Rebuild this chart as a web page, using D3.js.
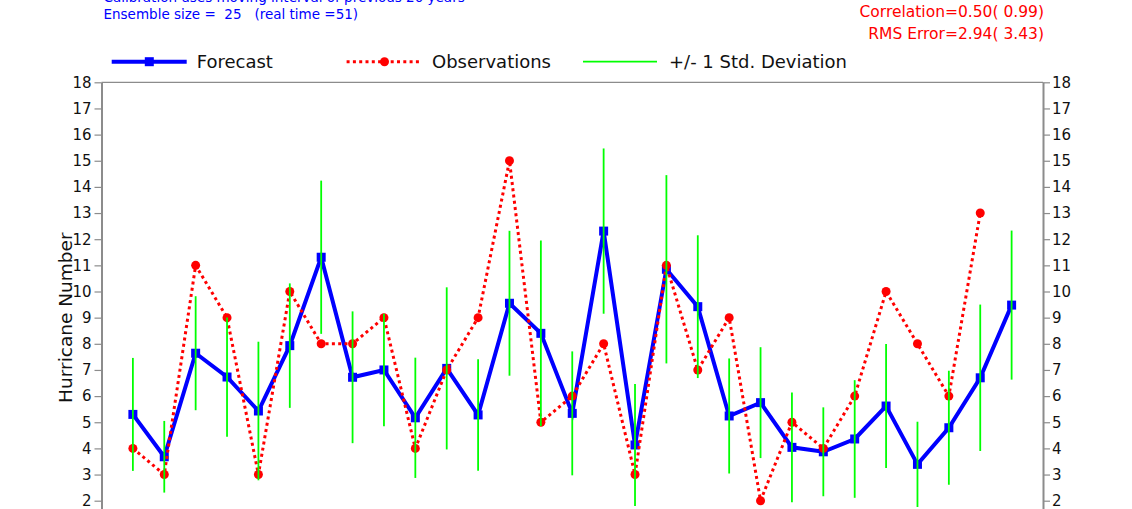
<!DOCTYPE html>
<html>
<head>
<meta charset="utf-8">
<script src="https://cdn.jsdelivr.net/npm/d3@7"></script>
<style>
  html, body { margin: 0; padding: 0; background: #fff; overflow: hidden; }
  svg { display: block; font-family: "DejaVu Sans", sans-serif; }
</style>
</head>
<body>
<svg id="chart" width="1132" height="509"></svg>
<script>
// forecast years (index along the x axis)
const years = [1, 2, 3, 4, 5, 6, 7, 8, 9, 10, 11, 12, 13, 14, 15, 16, 17, 18, 19, 20,
               21, 22, 23, 24, 25, 26, 27, 28, 29];

// ensemble mean forecast
const forecast = [5.30, 3.68, 7.64, 6.73, 5.43, 7.93, 11.31, 6.72, 7.00, 5.17,
                  7.06, 5.28, 9.55, 8.40, 5.34, 12.31, 4.13, 10.85, 9.42, 5.24,
                  5.75, 4.04, 3.87, 4.36, 5.62, 3.39, 4.79, 6.70, 9.48];

// ensemble standard deviation
const stdDev = [2.16, 1.37, 2.18, 2.28, 2.65, 2.38, 2.93, 2.52, 2.15, 2.30,
                3.10, 2.13, 2.77, 3.55, 2.37, 3.16, 2.33, 3.60, 2.73, 2.20,
                2.12, 2.10, 1.70, 2.25, 2.37, 1.63, 2.18, 2.80, 2.85];

// observed hurricane numbers (no observation yet for the last year)
const observed = [4, 3, 11, 9, 3, 10, 8, 8, 9, 4, 7, 9, 15, 5, 6, 8, 3, 11, 7, 9,
                  2, 5, 4, 6, 10, 8, 6, 13];

// tick labels visible in the frame (axis itself runs down to 0)
const yTicks = [2, 3, 4, 5, 6, 7, 8, 9, 10, 11, 12, 13, 14, 15, 16, 17, 18];

const infoLines = ["Calibration uses moving interval of previous 20 years",
                   "Ensemble size =  25   (real time =51)"];
const scoreLines = ["Correlation=0.50( 0.99)", "RMS Error=2.94( 3.43)"];

const svg = d3.select("#chart");

const x = d3.scaleLinear().domain([0, 30]).range([101.5, 1043]);
const y = d3.scaleLinear().domain([0, 18]).range([553, 82.3]);

    // frame and axes
const axisColor = "#8c8c8c";

svg.append("line")
    .attr("x1", x(0)).attr("x2", x(30))
    .attr("y1", y(18)).attr("y2", y(18))
    .attr("stroke", axisColor).attr("stroke-width", 1.2);

function styleAxis(g) {
    g.select(".domain").attr("stroke", axisColor).attr("stroke-width", 2);
    g.selectAll(".tick line").attr("stroke", axisColor).attr("stroke-width", 1.2);
    g.selectAll(".tick text").attr("fill", "#111").attr("font-size", 15)
        .attr("font-family", "DejaVu Sans, sans-serif");
}

svg.append("g")
    .attr("transform", `translate(${x(0)},0)`)
    .call(d3.axisLeft(y).tickValues(yTicks).tickSize(7).tickSizeOuter(0).tickPadding(3))
    .call(styleAxis);

svg.append("g")
    .attr("transform", `translate(${x(30)},0)`)
    .call(d3.axisRight(y).tickValues(yTicks).tickSize(7).tickSizeOuter(0).tickPadding(2))
    .call(styleAxis);

svg.append("text")
    .attr("transform", `translate(71.5,${(y(0) + y(18)) / 2}) rotate(-90)`)
    .attr("text-anchor", "middle")
    .attr("font-size", 18.5)
    .attr("fill", "#111")
    .text("Hurricane Number");

    // forecast line with square markers
const fcData = years.map((yr, i) => ({ yr, v: forecast[i], sd: stdDev[i] }));
const obsData = observed.map((v, i) => ({ yr: years[i], v }));

svg.append("path")
    .datum(fcData)
    .attr("fill", "none")
    .attr("stroke", "#0000ff")
    .attr("stroke-width", 4)
    .attr("d", d3.line().x(d => x(d.yr)).y(d => y(d.v)));

svg.append("g")
    .selectAll("rect")
    .data(fcData)
    .join("rect")
    .attr("x", d => x(d.yr) - 4.5)
    .attr("y", d => y(d.v) - 4.5)
    .attr("width", 9)
    .attr("height", 9)
    .attr("fill", "#0000ff");

    // observations, dotted red
svg.append("path")
    .datum(obsData)
    .attr("fill", "none")
    .attr("stroke", "#ff0000")
    .attr("stroke-width", 3)
    .attr("stroke-dasharray", "3,3.3")
    .attr("d", d3.line().x(d => x(d.yr)).y(d => y(d.v)));

svg.append("g")
    .selectAll("circle")
    .data(obsData)
    .join("circle")
    .attr("cx", d => x(d.yr))
    .attr("cy", d => y(d.v))
    .attr("r", 4.5)
    .attr("fill", "#ff0000");

    // +/- 1 std deviation bars
svg.append("g")
    .attr("stroke", "#00ff00")
    .attr("stroke-width", 1.8)
    .selectAll("line")
    .data(fcData)
    .join("line")
    .attr("x1", d => x(d.yr)).attr("x2", d => x(d.yr))
    .attr("y1", d => y(d.v + d.sd))
    .attr("y2", d => y(d.v - d.sd));

    // legend
const legendY = 61.7;
const legend = svg.append("g");

legend.append("line").attr("x1", 111.7).attr("x2", 186.7).attr("y1", legendY).attr("y2", legendY)
    .attr("stroke", "#0000ff").attr("stroke-width", 4);
legend.append("rect").attr("x", 149.3 - 4.5).attr("y", legendY - 4.5).attr("width", 9).attr("height", 9)
    .attr("fill", "#0000ff");
legend.append("line").attr("x1", 346.6).attr("x2", 421.7).attr("y1", legendY).attr("y2", legendY)
    .attr("stroke", "#ff0000").attr("stroke-width", 3).attr("stroke-dasharray", "3,3.3");
legend.append("circle").attr("cx", 384.5).attr("cy", legendY).attr("r", 4.5).attr("fill", "#ff0000");
legend.append("line").attr("x1", 583).attr("x2", 657).attr("y1", legendY).attr("y2", legendY)
    .attr("stroke", "#00ff00").attr("stroke-width", 1.8);

const legendLabels = [
    { x: 196.7, t: "Forecast" },
    { x: 432, t: "Observations" },
    { x: 669, t: "+/- 1 Std. Deviation" }
];
legend.selectAll("text")
    .data(legendLabels)
    .join("text")
    .attr("x", d => d.x)
    .attr("y", legendY + 6.5)
    .attr("font-size", 18)
    .attr("fill", "#111")
    .text(d => d.t);

    // header texts
svg.append("g")
    .selectAll("text")
    .data(infoLines)
    .join("text")
    .attr("x", 103.5)
    .attr("y", (d, i) => 1.5 + i * 17)
    .attr("font-size", 13.5)
    .attr("fill", "#0000ff")
    .attr("xml:space", "preserve")
    .style("white-space", "pre")
    .text(d => d);

svg.append("g")
    .selectAll("text")
    .data(scoreLines)
    .join("text")
    .attr("x", 1044)
    .attr("y", (d, i) => 17 + i * 21.5)
    .attr("text-anchor", "end")
    .attr("font-size", 15.5)
    .attr("fill", "#ff0000")
    .text(d => d);
</script>
</body>
</html>
